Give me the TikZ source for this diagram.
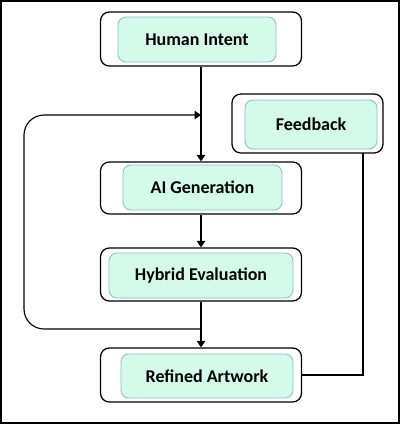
\documentclass[tikz,border=0pt]{standalone}
\usepackage{fontspec}
\setmainfont{Carlito}
\usetikzlibrary{arrows.meta,positioning,calc}

\definecolor{mintfill}{HTML}{D4FBE9}
\definecolor{mintedge}{HTML}{92B8CC}

\begin{document}
\begin{tikzpicture}[
    x=0.25mm, y=-0.25mm,
    outer/.style={draw, line width=0.9pt, rounded corners=2.2mm, minimum width=50.25mm, minimum height=13.5mm, inner sep=0pt},
    inner/.style={draw=mintedge, fill=mintfill, line width=0.6pt, rounded corners=2mm, inner sep=0pt, font=\bfseries\fontsize{12.8}{15}\selectfont},
    arr/.style={-{Triangle[length=1.6mm, width=2.1mm]}, line width=0.8pt},
  ]
  \useasboundingbox (0,0) rectangle (400,424);
  \draw[line width=1.1pt] (1,1) rectangle (399,423);

  \node[outer] (intent) at (201,39) {};
  \node[inner, minimum width=39.5mm, minimum height=11.25mm] (intentin) at (197,39.5) {Human Intent};

  \node[outer, minimum width=37.75mm, minimum height=14.75mm] (fb) at (307.5,123.5) {};
  \node[inner, minimum width=33mm, minimum height=12.25mm] (fbin) at (311,124.5) {Feedback};

  \node[outer, minimum height=13mm] (gen) at (201,188) {};
  \node[inner, minimum width=39.75mm, minimum height=11.25mm] (genin) at (202.5,187.5) {AI Generation};

  \node[outer, minimum height=13.25mm] (eval) at (201,274.5) {};
  \node[inner, minimum width=46mm, minimum height=11.25mm] (evalin) at (201,275.5) {Hybrid Evaluation};

  \node[outer] (art) at (201,375) {};
  \node[inner, minimum width=43mm, minimum height=11mm] (artin) at (207,376) {Refined Artwork};

  \coordinate (merge) at (201,115);
  \coordinate (split) at (201,329);
  \coordinate (loopbl) at (24,329);
  \coordinate (fbout) at (363,153);

  \draw[arr] (intent) -- (gen);
  \draw[arr] (gen) -- (eval);
  \draw[arr] (eval) -- (art);
  \draw[arr, rounded corners=5mm] (split) -- (loopbl) |- (merge);
  \draw[line width=1.4pt] (fbout) |- (art.east);
\end{tikzpicture}
\end{document}
